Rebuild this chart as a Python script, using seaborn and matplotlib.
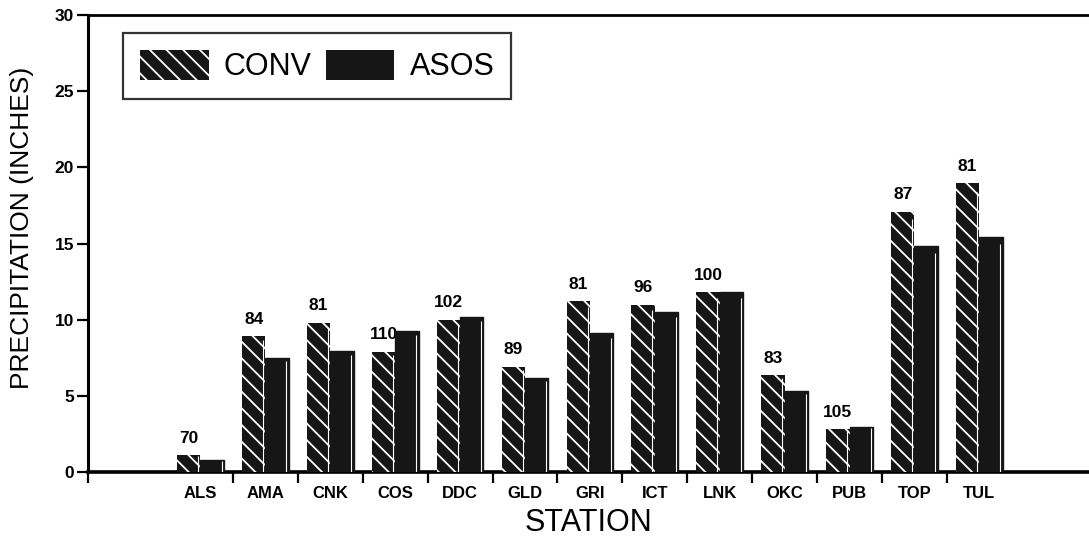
import matplotlib
matplotlib.use("Agg")
import matplotlib.pyplot as plt
from matplotlib.patches import Patch
import pandas as pd
import seaborn as sns

stations = ["ALS", "AMA", "CNK", "COS", "DDC", "GLD", "GRI", "ICT", "LNK",
            "OKC", "PUB", "TOP", "TUL"]
conv = [1.1, 8.9, 9.8, 7.9, 10.0, 6.9, 11.2, 10.95, 11.8, 6.35, 2.8, 17.1, 18.95]
asos = [0.77, 7.5, 7.95, 9.25, 10.2, 6.15, 9.1, 10.5, 11.8, 5.3, 2.95, 14.85, 15.4]
pct_labels = ["70", "84", "81", "110", "102", "89", "81", "96", "100", "83",
              "105", "87", "81"]
series = ["CONV", "ASOS"]
y_ticks = [0, 5, 10, 15, 20, 25, 30]

df = pd.DataFrame({
    "station": stations * 2,
    "series": ["CONV"] * len(stations) + ["ASOS"] * len(stations),
    "value": conv + asos,
})

sns.set_theme(style="white")
plt.rcParams["font.family"] = ["Liberation Sans", "DejaVu Sans"]
plt.rcParams["hatch.linewidth"] = 1.3
for key in ["text.color", "axes.labelcolor", "xtick.color", "ytick.color",
            "axes.edgecolor"]:
    plt.rcParams[key] = "black"

BAR = "#161616"
fig = plt.figure(figsize=(10.89, 5.41), dpi=100)
ax = fig.add_axes([88 / 1089, (541 - 472) / 541, 1 - 88 / 1089, (472 - 15) / 541])

sns.barplot(data=df, x="station", y="value", hue="series", order=stations,
            hue_order=series, palette={"CONV": BAR, "ASOS": BAR},
            width=0.72, legend=False, saturation=1, ax=ax, zorder=3)

n = len(stations)
bars = list(ax.patches)
for i, p in enumerate(bars):
    if i < n:
        # hatched conventional-gauge bars: white diagonal lines on black
        p.set_hatch("\\\\")
        p.set_edgecolor("white")
        p.set_linewidth(0)
    else:
        p.set_edgecolor(BAR)
        p.set_linewidth(1.0)
    # thin highlight near the right face of every bar
    x_hi = p.get_x() + p.get_width() * 0.9
    ax.plot([x_hi, x_hi], [0, p.get_height() * 0.97], color="white",
            lw=0.8, zorder=4, solid_capstyle="butt")

# ratio labels above the CONV bars (drawn beneath bars so ASOS can cover them)
for i, p in enumerate(bars[:n]):
    ax.annotate(pct_labels[i], (p.get_x() + p.get_width() / 2, p.get_height()),
                xytext=(0, 7), textcoords="offset points", ha="center",
                va="bottom", fontsize=12.5, fontweight="bold", zorder=2)

ax.set_xlim(-1.733, 13.69)
ax.set_ylim(0, 30)
ax.set_yticks(y_ticks)
ax.set_yticklabels([str(v) for v in y_ticks], fontsize=12.5, fontweight="bold")
ax.set_xticks(range(n))
ax.set_xticklabels(stations, fontsize=12, fontweight="bold")
ax.tick_params(axis="x", which="major", length=0, pad=10)
ax.set_xticks([-1.733] + [k + 0.5 for k in range(n - 1)], minor=True)
ax.tick_params(axis="x", which="minor", direction="out", length=8, width=1.6,
               color="black", bottom=True)
ax.tick_params(axis="y", which="major", direction="out", length=8, width=1.6,
               color="black", left=True, pad=2)

for side in ["left", "top", "bottom"]:
    ax.spines[side].set_visible(True)
    ax.spines[side].set_color("black")
ax.spines["left"].set_linewidth(2.2)
ax.spines["top"].set_linewidth(2.0)
ax.spines["bottom"].set_linewidth(2.6)
ax.spines["right"].set_visible(False)

ax.set_xlabel("STATION", fontsize=22)
ax.set_ylabel("PRECIPITATION (INCHES)", fontsize=19)
ax.yaxis.set_label_coords(-0.054, 0.534)
ax.xaxis.set_label_coords(0.5, -0.079)

handles = [Patch(facecolor=BAR, edgecolor="white", hatch="\\\\", linewidth=0),
           Patch(facecolor=BAR, edgecolor=BAR, linewidth=0)]
leg = ax.legend(handles, series, loc="upper left", ncol=2,
                bbox_to_anchor=(123 / 1089, 1 - 33 / 541),
                bbox_transform=fig.transFigure, fontsize=22, frameon=True,
                fancybox=False, handlelength=2.25, handleheight=1.15,
                handletextpad=0.5, columnspacing=0.45, borderpad=0.55,
                borderaxespad=0)
leg.get_frame().set_edgecolor("black")
leg.get_frame().set_linewidth(1.6)
leg.set_zorder(5)

fig.savefig("out.png", dpi=100, facecolor="white")
